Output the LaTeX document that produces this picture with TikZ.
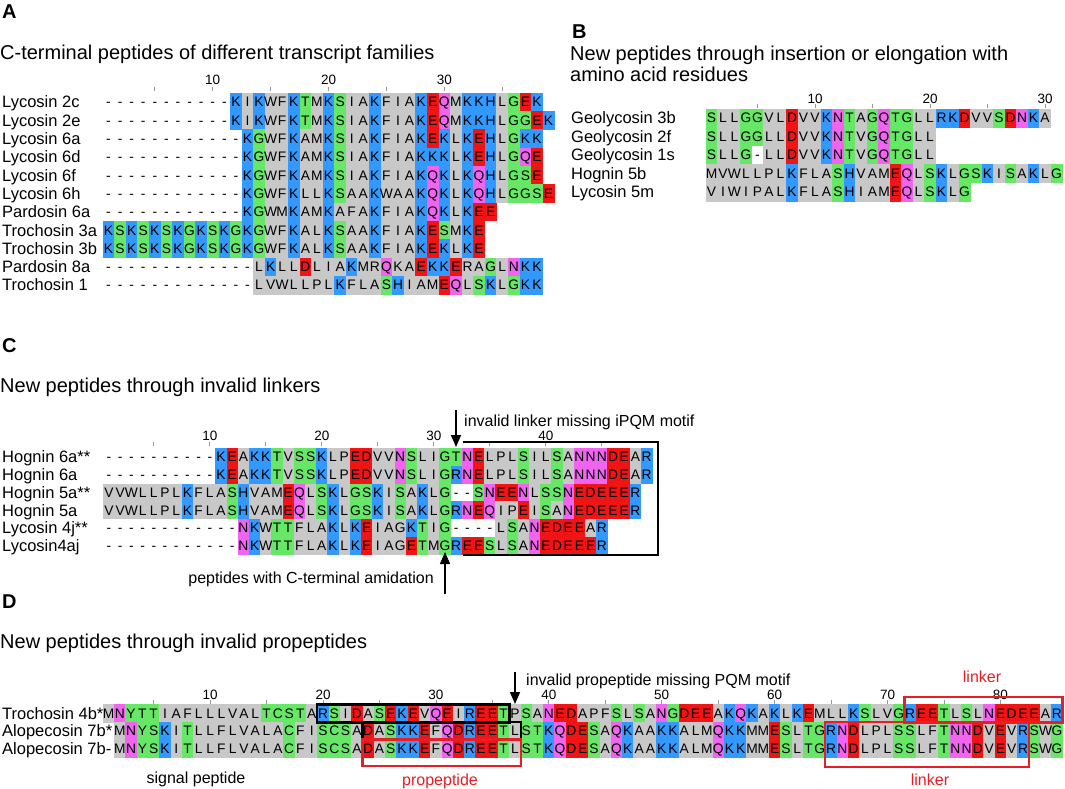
\documentclass[tikz,border=0pt]{standalone}
\usepackage{fontspec}
\setmainfont{Liberation Sans}
\usetikzlibrary{arrows.meta}

\definecolor{resblue}{RGB}{51,153,255}
\definecolor{resred}{RGB}{240,20,20}
\definecolor{resgrn}{RGB}{102,232,102}
\definecolor{resmag}{RGB}{240,100,240}
\definecolor{resgray}{RGB}{200,200,200}
\definecolor{boxred}{RGB}{232,30,36}

% residue colours (lower case = grey cell, printed upper case)
\def\setres#1#2{\expandafter\def\csname resfill#1\endcsname{#2}}
\setres{K}{resblue}\setres{R}{resblue}\setres{H}{resblue}
\setres{D}{resred}\setres{E}{resred}
\setres{N}{resmag}\setres{Q}{resmag}
\setres{S}{resgrn}\setres{T}{resgrn}\setres{G}{resgrn}\setres{Y}{resgrn}\setres{C}{resgrn}
\foreach \c in {A,F,I,L,M,P,V,W,a,g,k,r}{\expandafter\gdef\csname resfill\c\endcsname{resgray}}

\newcount\rescol
\def\seqfill#1{%
  \ifx#1\relax\else
    \ifcsname resfill#1\endcsname
      \edef\rc{\the\rescol}\edef\resc{\csname resfill#1\endcsname}%
      \fill[fill=\resc] ({\colx+(\rc-1)*\colw-\colw/2},{\resy-\rowh/2}) rectangle ++({\colw+0.4},{\rowh+0.4});
    \fi
    \advance\rescol by 1
    \expandafter\seqfill
  \fi}
\def\seqtext#1{%
  \ifx#1\relax\else
    \edef\rc{\the\rescol}%
    \node[res] (\resname-\rc) at ({\colx+(\rc-1)*\colw},\resy) {\uppercase{#1}};
    \advance\rescol by 1
    \expandafter\seqtext
  \fi}
% name, label, y, first column, residues
\newcommand\seqrow[5]{%
  \def\resname{#1}\def\resy{#3}%
  \node[seqlabel] (#1lab) at (\labx,#3) {#2};
  \rescol=#4 \seqfill#5\relax
  \rescol=#4 \seqtext#5\relax}

\tikzset{
  res/.style={inner sep=0pt, minimum width=\colw pt, minimum height=\rowh pt, text height=9.9pt, text depth=0pt, font=\fontsize{13.8}{13.8}\selectfont},
  seqlabel/.style={anchor=west, inner sep=0pt, text height=11.8pt, text depth=0pt, font=\fontsize{16.5}{16.5}\selectfont},
  rulenum/.style={inner sep=0pt, text height=9.5pt, text depth=0pt, font=\fontsize{13.5}{13.5}\selectfont},
  rtick/.style={draw=black!40, line width=0.8pt},
  paneltag/.style={anchor=west, inner sep=0pt, text height=14.3pt, text depth=0pt, font=\fontsize{20}{20}\selectfont\bfseries},
  paneltitle/.style={anchor=west, inner sep=0pt, text height=14.3pt, text depth=0pt, font=\fontsize{20}{20}\selectfont},
  note/.style={inner sep=0pt, text height=11.2pt, text depth=0pt, font=\fontsize{16}{16}\selectfont},
  rednote/.style={note, text=boxred},
  pointer/.style={line width=1.5pt, -{Triangle[length=12pt,width=10pt]}},
  blackbox/.style={draw=black, line width=2.5pt},
  redbox/.style={draw=boxred, line width=2.5pt},
}

\begin{document}
\begin{tikzpicture}[x=1pt,y=-1pt]
\useasboundingbox (0,0) rectangle (1065,788);
\fill[white] (0,0) rectangle (1065,788);

%% ---------------- panel A
\node[paneltag] (tagA) at (2,11) {A};
\node[paneltitle] (titleA) at (0,52) {C-terminal peptides of different transcript families};
\def\colx{108.5}\def\colw{11.58}\def\rowh{18.3}\def\labx{2}
\foreach \n in {10,20,30} \node[rulenum] (An\n) at ({\colx+(\n-1)*\colw},80) {\n};
\foreach \t in {5,10,...,35} \draw[rtick] ({\colx+(\t-1)*\colw},87) -- ++(0,4);
\seqrow{A1}{Lycosin 2c}{102}{1}{-----------KIKWFKTMKSIAKFIAKEQMKKHLGEK}
\seqrow{A2}{Lycosin 2e}{120.3}{1}{-----------KIKWFKTMKSIAKFIAKEQMKKHLGGEK}
\seqrow{A3}{Lycosin 6a}{138.6}{1}{------------KGWFKAMKSIAKFIAKEKLKEHLGKK}
\seqrow{A4}{Lycosin 6d}{156.9}{1}{------------KGWFKAMKSIAKFIAKKKLKEHLGQE}
\seqrow{A5}{Lycosin 6f}{175.2}{1}{------------KGWFKAMKSIAKFIAKQKLKQHLGSE}
\seqrow{A6}{Lycosin 6h}{193.5}{1}{------------KGWFKLLKSAAKWAAKQKLKQHLGGSE}
\seqrow{A7}{Pardosin 6a}{211.8}{1}{------------KGWMKAMKAFAKFIAKQKLKEE}
\seqrow{A8}{Trochosin 3a}{230.1}{1}{KSKSKSKGKSKGKGWFKALKSAAKFIAKESMKE}
\seqrow{A9}{Trochosin 3b}{248.4}{1}{KSKSKSKGKSKGKGWFKALKSAAKFIAKEKLKE}
\seqrow{A10}{Pardosin 8a}{266.7}{1}{-------------LKLLDLIAKMrQkAEKKErAGLNKK}
\seqrow{A11}{Trochosin 1}{285}{1}{-------------LVWLLPLKFLASHIAMEQLSKLGKK}

%% ---------------- panel B
\node[paneltag] (tagB) at (572,31) {B};
\node[paneltitle] (titleB) at (570,53) {New peptides through insertion or elongation with};
\node[paneltitle] (titleB2) at (570,74) {amino acid residues};
\def\colx{711.5}\def\colw{11.5}\def\rowh{18.5}\def\labx{571}
\foreach \n in {10,20,30} \node[rulenum] (Bn\n) at ({\colx+(\n-1)*\colw},99) {\n};
\foreach \t in {5,10,...,30} \draw[rtick] ({\colx+(\t-1)*\colw},104) -- ++(0,4);
\seqrow{B1}{Geolycosin 3b}{118}{1}{SLLGGVLDVVKNTAGQTGLLRKDVVSDNKA}
\seqrow{B2}{Geolycosin 2f}{136.5}{1}{SLLGGLLDVVKNTVGQTGLL}
\seqrow{B3}{Geolycosin 1s}{155}{1}{SLLG-LLDVVKNTVGQTGLL}
\seqrow{B4}{Hognin 5b}{173.5}{1}{MVWLLPLKFLASHVAMEQLSKLGSKISAKLG}
\seqrow{B5}{Lycosin 5m}{192}{1}{VIWIPALKFLASHIAMEQLSKLG}

%% ---------------- panel C
\node[paneltag] (tagC) at (2,345) {C};
\node[paneltitle] (titleC) at (0,385) {New peptides through invalid linkers};
\def\colx{109}\def\colw{11.2}\def\rowh{17.7}\def\labx{2}
\foreach \n in {10,20,30,40} \node[rulenum] (Cn\n) at ({\colx+(\n-1)*\colw},436) {\n};
\foreach \t in {5,10,...,45} \draw[rtick] ({\colx+(\t-1)*\colw},442) -- ++(0,4);
\seqrow{C1}{Hognin 6a**}{457}{1}{----------KEAKKTVSSKLPEDVVNSLIGTNELPLSILSANNNDEAR}
\seqrow{C2}{Hognin 6a}{474.7}{1}{----------KEAKKTVSSKLPEDVVNSLIGRNELPLSILSANNNDEAR}
\seqrow{C3}{Hognin 5a**}{492.4}{1}{VVWLLPLKFLASHVAMEQLSKLGSKISAKLG--SNEENLSSNEDEEER}
\seqrow{C4}{Hognin 5a}{510.1}{1}{VVWLLPLKFLASHVAMEQLSKLGSKISAKLGRNEQIPEISANEDEEER}
\seqrow{C5}{Lycosin 4j**}{527.8}{1}{------------NKWTTFLAKLKEIAgKTIG----LSANEDEEAR}
\seqrow{C6}{Lycosin4aj}{545.5}{1}{------------NKWTTFLAKLKEIAgETMGREESLSANEDEEER}
% linker bracket
\coordinate (brkA) at (463,442);
\coordinate (brkB) at (658,442);
\coordinate (brkC) at (658,555);
\coordinate (brkD) at (463,555);
\draw[blackbox] (brkA) -- (brkB) -- (brkC) -- (brkD);
\coordinate (linkTop) at (456,410);
\coordinate (linkTip) at (456,447);
\draw[pointer] (linkTop) -- (linkTip);
\node[note, anchor=west] (linkNote) at (464,421) {invalid linker missing iPQM motif};
\coordinate (amidBot) at (445,594);
\coordinate (amidTip) at (445,552);
\draw[pointer] (amidBot) -- (amidTip);
\node[note, anchor=east] (amidNote) at (434,578) {peptides with C-terminal amidation};

%% ---------------- panel D
\node[paneltag] (tagD) at (2,601) {D};
\node[paneltitle] (titleD) at (0,641) {New peptides through invalid propeptides};
\def\colx{108.5}\def\colw{11.29}\def\rowh{17.7}\def\labx{2}
\foreach \n in {10,20,...,80} \node[rulenum] (Dn\n) at ({\colx+(\n-1)*\colw},694.5) {\n};
\foreach \t in {5,10,...,80} \draw[rtick] ({\colx+(\t-1)*\colw},700) -- ++(0,4);
\seqrow{D1}{Trochosin 4b*}{713.3}{1}{MNYTTIAFLLLVALTCSTARSIDASEKEVQEIREETPSANEDAPFSLSANGDEEAKQKAKLKEMLLKSLVGREETLSLNEDEEAR}
\seqrow{D2}{Alopecosin 7b*}{731}{2}{MNYSKITLLFLVALACFISCSADASKKEFQDREETLSTKQDESAQKAAKKALMQKKMMESLTGRNDLPLSSLFTNNDVEVRSWG}
\seqrow{D3}{Alopecosin 7b-}{748.7}{2}{MNYSKITLLFLVALACFISCSADASKKEFQDREETLSTKQDESAQKAAKKALMQKKMMESLTGRNDLPLSSLFTNNDVEVRSWG}
% propeptide boxes
\draw[blackbox] (D1-20.north west) rectangle (D1-36.south east);
\draw[blackbox] (D2-24.north west) rectangle (D2-37.south east);
\draw[redbox] (D3-24.north west) rectangle ([yshift=-8pt]D3-37.south east);
% linker boxes
\draw[redbox] (D1-72.south west) rectangle ([yshift=7.5pt]D1-85.north east);
\draw[redbox] (D2-65.north west) rectangle ([yshift=-9pt]D3-82.south east);
\coordinate (propTop) at (515,672);
\coordinate (propTip) at (515,704);
\draw[pointer] (propTop) -- (propTip);
\node[note, anchor=west] (propNote) at (526,680) {invalid propeptide missing PQM motif};
\node[rednote] (linkerTop) at (982,677) {linker};
\node[rednote] (propLab) at (440,780) {propeptide};
\node[rednote] (linkerBot) at (930,780) {linker};
\node[note] (signalLab) at (196,778) {signal peptide};

\end{tikzpicture}
\end{document}
